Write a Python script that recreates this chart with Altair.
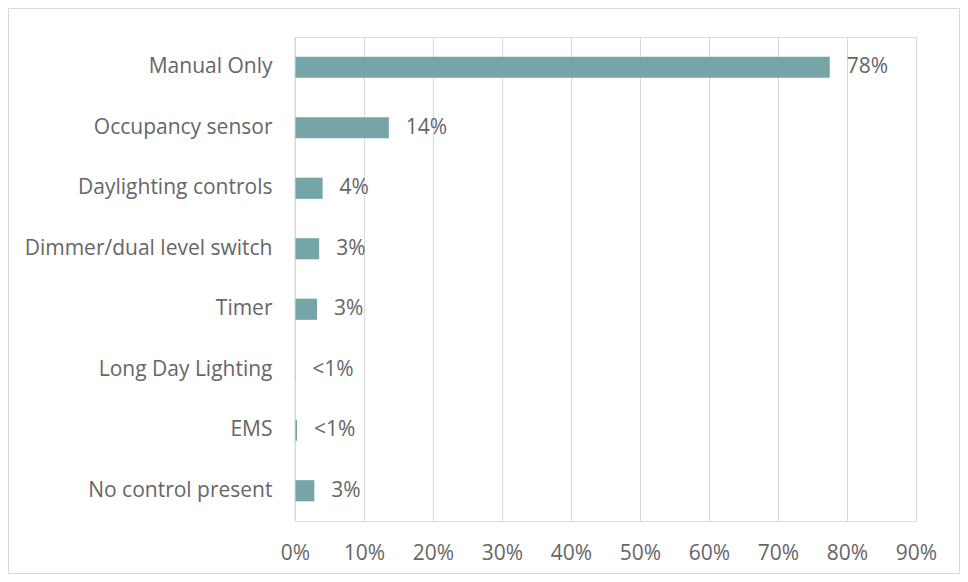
import altair as alt
import pandas as pd

categories = ["Manual Only", "Occupancy sensor", "Daylighting controls",
              "Dimmer/dual level switch", "Timer", "Long Day Lighting",
              "EMS", "No control present"]
values = [0.775, 0.136, 0.040, 0.035, 0.032, 0.0005, 0.003, 0.028]
labels = ["78%", "14%", "4%", "3%", "3%", "<1%", "<1%", "3%"]
x_ticks = [0, 0.1, 0.2, 0.3, 0.4, 0.5, 0.6, 0.7, 0.8, 0.9]

df = pd.DataFrame({"cat": categories, "val": values, "lab": labels})

FONT = "Open Sans"
GRAY = "#666666"
FS = 21

y_enc = alt.Y("cat:N", sort=categories, title=None,
              scale=alt.Scale(paddingInner=0.65, paddingOuter=0.325),
              axis=alt.Axis(labelFontSize=FS, labelColor=GRAY, labelFont=FONT,
                            labelPadding=23, ticks=False, domain=False,
                            labelLimit=400))
x_enc = alt.X("val:Q", title=None,
              scale=alt.Scale(domain=[0, 0.9], nice=False),
              axis=alt.Axis(values=x_ticks, format=".0%", labelFontSize=FS,
                            labelColor=GRAY, labelFont=FONT, labelPadding=21,
                            labelFlush=False, labelOverlap=False,
                            ticks=False, domain=False, gridColor="#d9d9d9",
                            gridWidth=1))

base = alt.Chart(df)
bars = base.mark_bar(color="#76a5a8").encode(x=x_enc, y=y_enc)
text = base.mark_text(align="left", baseline="middle", dx=17, fontSize=FS,
                      font=FONT, color=GRAY).encode(
    x=alt.X("val:Q"), y=alt.Y("cat:N", sort=categories), text="lab:N")

zero = alt.Chart(pd.DataFrame({"z": [0]})).mark_rule(color="#d9d9d9", strokeWidth=1).encode(
    x=alt.X("z:Q"))

frame = alt.Chart(pd.DataFrame({"a": [0]})).mark_rect(
    fill=None, stroke="#d9d9d9", strokeWidth=1, clip=False).encode(
    x=alt.value(-286.5), x2=alt.value(664.5), y=alt.value(-28.5), y2=alt.value(536.5))

chart = alt.layer(frame, bars, zero, text).properties(
    width=621, height=484,
    autosize=alt.AutoSizeParams(type="none"),
    padding={"left": 287, "top": 29, "right": 44, "bottom": 53},
).configure_view(stroke=None).configure(background="white")

chart.save("out.html", embed_options={"renderer": "svg", "actions": False})
